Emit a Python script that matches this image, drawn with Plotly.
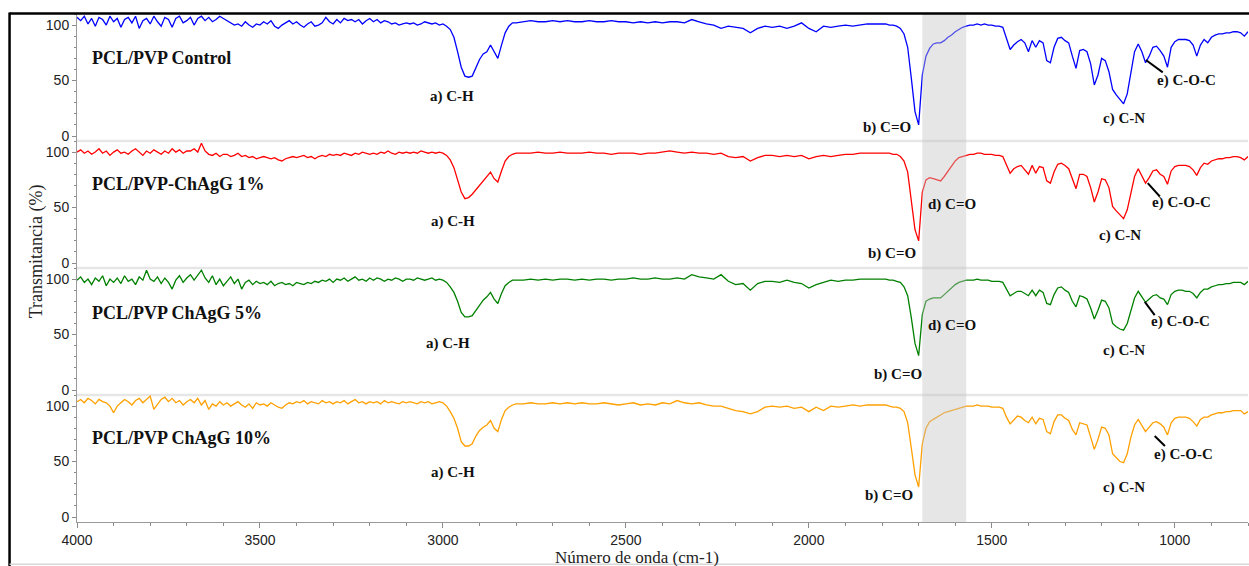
import plotly.graph_objects as go
from plotly.subplots import make_subplots

# ---------------- data ----------------
# sampling grid (cm-1): 4000-2800 every 10, 2780-1820 every 20, 1800-800 every 10
wavenumber = list(range(4000, 2790, -10)) + list(range(2780, 1810, -20)) + list(range(1800, 790, -10))

series_names = ["PCL/PVP Control", "PCL/PVP-ChAgG 1%", "PCL/PVP ChAgG 5%", "PCL/PVP ChAgG 10%"]

control_T = (
    [107, 104, 108, 101, 106, 99, 107, 105, 100, 108, 103,
     106, 98, 105, 107, 102, 108, 97, 104, 106, 101,
     108, 103, 99, 107, 105, 98, 106, 108, 102, 104,
     107, 100, 106, 108, 104, 107, 103, 105, 108, 106,
     104, 102, 100, 101, 99, 103, 100, 98, 101, 100,
     103, 101, 104, 99, 97, 100, 102, 104, 101, 103,
     100, 98, 101, 103, 99, 100, 102, 107, 103, 101,
     105, 102, 106, 104, 105, 103, 105, 101, 104, 106,
     103, 105, 102, 104, 103, 101, 102, 100, 101, 102,
     101, 102, 100, 101, 103, 102, 101, 102, 100, 101]
    + [99, 96, 89, 76, 62, 54, 53, 54, 61, 69, 74, 76, 82, 76, 70, 82, 93, 99, 102, 102]
    + [103, 104, 103, 103, 104, 103, 104, 103, 103, 104,
       103, 103, 104, 103, 103, 102, 103, 102, 103, 102,
       103, 103, 102, 105, 103, 101, 100, 97, 99, 98,
       97, 93, 97, 99, 98, 99, 97, 99, 102, 97,
       94, 99, 98, 99, 100, 99, 100, 101, 101]
    + [101, 101, 100, 100, 99, 97, 92, 80, 52, 22,
       10, 55, 72, 79, 83, 84, 84, 86, 89, 91,
       94, 96, 98, 99, 100, 100, 101, 100, 101, 100,
       100, 99, 99, 98, 88, 78, 82, 85, 87, 84,
       76, 86, 80, 86, 84, 68, 66, 80, 88, 89,
       86, 84, 72, 61, 77, 78, 76, 65, 46, 55,
       70, 68, 58, 42, 37, 33, 29, 38, 58, 76,
       83, 76, 66, 72, 80, 81, 77, 72, 62, 80,
       85, 87, 87, 87, 86, 82, 72, 82, 87, 84,
       89, 91, 92, 92, 93, 93, 94, 94, 93, 90,
       94]
)

chagg1_T = (
    [100, 102, 99, 101, 98, 100, 103, 99, 101, 97, 100,
     102, 99, 100, 98, 101, 103, 100, 97, 101, 99,
     102, 100, 98, 101, 99, 103, 100, 102, 99, 101,
     101, 103, 100, 108, 101, 98, 97, 99, 96, 98,
     98, 96, 97, 99, 96, 97, 95, 96, 94, 95,
     96, 95, 94, 95, 93, 92, 94, 95, 96, 95,
     96, 97, 95, 96, 94, 96, 97, 96, 98, 97,
     98, 97, 99, 98, 97, 99, 98, 100, 99, 98,
     99, 98, 100, 99, 101, 99, 98, 100, 99, 100,
     99, 100, 99, 101, 100, 99, 100, 99, 100, 99]
    + [97, 93, 86, 76, 64, 58, 59, 62, 66, 71, 75, 78, 82, 76, 73, 83, 92, 96, 98, 99]
    + [99, 99, 100, 99, 99, 100, 99, 99, 99, 100,
       99, 99, 98, 99, 99, 99, 98, 99, 99, 100,
       101, 100, 99, 100, 99, 99, 98, 99, 96, 95,
       96, 92, 95, 97, 97, 96, 97, 96, 97, 94,
       96, 97, 96, 97, 98, 98, 99, 99, 99]
    + [99, 99, 99, 98, 98, 96, 92, 82, 58, 30,
       20, 64, 75, 77, 76, 75, 74, 78, 83, 88,
       92, 95, 96, 97, 98, 98, 99, 99, 98, 98,
       98, 97, 97, 96, 88, 81, 85, 87, 88, 84,
       80, 88, 81, 87, 86, 74, 72, 82, 89, 90,
       88, 85, 75, 67, 80, 80, 78, 68, 55, 64,
       76, 75, 68, 51, 47, 43, 40, 48, 64, 78,
       85, 79, 72, 77, 83, 84, 80, 78, 71, 83,
       87, 88, 88, 88, 87, 84, 79, 86, 90, 89,
       92, 93, 94, 94, 95, 95, 96, 96, 95, 93,
       96]
)

chagg5_T = (
    [99, 102, 97, 100, 95, 101, 98, 103, 94, 100, 97,
     101, 96, 103, 98, 100, 95, 102, 99, 108, 100,
     98, 102, 96, 101, 97, 91, 99, 103, 97, 101,
     104, 99, 103, 108, 101, 97, 103, 95, 100, 94,
     98, 102, 96, 100, 91, 97, 99, 95, 98, 96,
     97, 95, 98, 94, 96, 97, 95, 96, 94, 97,
     96, 95, 97, 96, 98, 97, 99, 98, 100, 97,
     100, 99, 101, 98, 100, 102, 99, 100, 98, 101,
     99, 101, 100, 98, 100, 99, 101, 100, 98, 100,
     100, 99, 101, 100, 99, 100, 101, 99, 100, 99]
    + [97, 93, 88, 80, 70, 66, 66, 67, 72, 77, 81, 84, 88, 82, 78, 87, 94, 97, 99, 99]
    + [99, 100, 99, 100, 99, 100, 100, 99, 100, 99,
       100, 100, 99, 100, 100, 101, 100, 100, 101, 100,
       100, 101, 100, 104, 102, 101, 100, 104, 98, 95,
       96, 90, 96, 98, 98, 97, 99, 97, 96, 92,
       95, 97, 99, 98, 99, 99, 100, 100, 100]
    + [100, 100, 99, 99, 98, 97, 93, 85, 65, 42,
       31, 68, 80, 82, 83, 83, 83, 86, 89, 92,
       95, 97, 98, 99, 99, 99, 100, 99, 99, 99,
       98, 98, 98, 97, 91, 85, 87, 89, 89, 87,
       85, 90, 85, 90, 88, 78, 77, 86, 92, 93,
       90, 88, 80, 75, 85, 84, 82, 74, 64, 72,
       81, 80, 74, 60, 57, 55, 54, 60, 72, 83,
       89, 84, 79, 82, 85, 86, 83, 82, 77, 86,
       89, 90, 90, 89, 89, 87, 83, 88, 91, 91,
       93, 94, 95, 95, 96, 96, 97, 97, 97, 95,
       98]
)

chagg10_T = (
    [104, 106, 103, 107, 105, 102, 106, 104, 103, 100, 94,
     100, 103, 106, 104, 101, 105, 107, 103, 106, 109,
     97, 102, 106, 108, 104, 107, 103, 105, 101, 104,
     106, 103, 107, 101, 105, 97, 102, 100, 104, 101,
     103, 100, 102, 104, 101, 99, 102, 98, 103, 101,
     102, 100, 103, 101, 99, 98, 101, 103, 102, 104,
     103, 105, 102, 104, 103, 102, 105, 103, 104, 102,
     104, 103, 105, 102, 104, 106, 103, 104, 102, 104,
     103, 104, 102, 105, 103, 104, 103, 102, 104, 103,
     104, 103, 102, 104, 103, 104, 102, 103, 104, 103]
    + [100, 95, 89, 80, 68, 64, 64, 66, 73, 78, 81, 83, 87, 80, 77, 88, 96, 99, 101, 102]
    + [102, 103, 102, 102, 103, 102, 103, 102, 103, 102,
       102, 103, 102, 101, 102, 103, 101, 102, 101, 103,
       102, 105, 103, 102, 103, 101, 100, 100, 98, 96,
       95, 93, 95, 99, 100, 99, 100, 98, 99, 95,
       99, 96, 100, 99, 100, 101, 100, 101, 101]
    + [101, 101, 100, 99, 99, 98, 95, 85, 62, 38,
       27, 66, 80, 86, 88, 90, 92, 94, 95, 96,
       97, 98, 99, 100, 100, 100, 101, 100, 100, 100,
       99, 99, 99, 98, 90, 84, 88, 91, 90, 87,
       85, 90, 84, 89, 88, 77, 75, 86, 92, 92,
       89, 87, 79, 74, 85, 84, 83, 72, 61, 70,
       81, 80, 74, 57, 53, 50, 49, 57, 72, 83,
       88, 83, 77, 81, 85, 86, 84, 81, 74, 85,
       89, 90, 90, 90, 89, 86, 82, 88, 90, 90,
       92, 93, 94, 94, 95, 95, 96, 96, 96, 93,
       95]
)

series_values = [control_T, chagg1_T, chagg5_T, chagg10_T]
series_colors = ["#0000FF", "#FF0000", "#008000", "#FFA000"]

band_range = [1690, 1570]
x_ticks = [4000, 3500, 3000, 2500, 2000, 1500, 1000]
y_ticks = [0, 50, 100]

# ---------------- figure ----------------
fig = make_subplots(rows=4, cols=1, shared_xaxes=True, vertical_spacing=0)

for i, (name, vals, col) in enumerate(zip(series_names, series_values, series_colors)):
    fig.add_trace(go.Scatter(x=wavenumber, y=vals, mode="lines", name=name,
                             line=dict(color=col, width=1.3), showlegend=False),
                  row=i + 1, col=1)

tickfont = dict(family="Liberation Sans, Arial, sans-serif", size=14, color="#222222")
for r in range(1, 5):
    fig.update_yaxes(range=[-4.5, 110], tickvals=y_ticks, ticks="outside", ticklen=4,
                     tickcolor="#8a8a8a", showline=True, linecolor="#9a9a9a", linewidth=1,
                     showgrid=False, zeroline=False, tickfont=tickfont, automargin=False,
                     minor=dict(dtick=10, tick0=0, ticks="outside", ticklen=2, tickcolor="#8a8a8a"),
                     row=r, col=1)
    if r < 4:
        fig.update_xaxes(range=[4000, 800], showgrid=False, zeroline=False, showline=False,
                         ticks="", showticklabels=False, automargin=False, row=r, col=1)
fig.update_xaxes(range=[4000, 800], showgrid=False, zeroline=False, showline=True,
                 linecolor="#9a9a9a", linewidth=1, tickvals=x_ticks, ticks="outside",
                 ticklen=5, tickcolor="#8a8a8a", tickfont=tickfont, automargin=False,
                 minor=dict(dtick=100, tick0=0, ticks="outside", ticklen=3, tickcolor="#8a8a8a"),
                 row=4, col=1)

shapes = []
# shaded band
shapes.append(dict(type="rect", xref="x4", yref="paper", x0=band_range[0], x1=band_range[1],
                   y0=0, y1=1, fillcolor="#c4c4c4", opacity=0.42, line=dict(width=0), layer="above"))
# separators
for yy in [0.25, 0.5, 0.75]:
    shapes.append(dict(type="line", xref="paper", yref="paper", x0=0, x1=1, y0=yy, y1=yy,
                       line=dict(color="#e6e6e6", width=2.5), layer="below"))
# outer frame
shapes.append(dict(type="line", xref="paper", yref="paper", x0=-0.0576, x1=-0.0576,
                   y0=-0.09, y1=1.003, line=dict(color="black", width=2.5)))
shapes.append(dict(type="line", xref="paper", yref="paper", x0=-0.0576, x1=1.01,
                   y0=1.001, y1=1.001, line=dict(color="black", width=2.5)))
shapes.append(dict(type="line", xref="paper", yref="paper", x0=-0.0576, x1=1.01,
                   y0=-0.083, y1=-0.083, line=dict(color="#d8d8d8", width=1.5)))

# e) C-O-C pointer lines per panel: (x0, y0, x1, y1)
pointers = [(1079, 68.5, 1033, 57.4), (1074, 72, 1041, 60), (1082, 79.5, 1055, 67.6), (1055, 73, 1027, 64)]
for i, (x0, y0, x1, y1) in enumerate(pointers):
    ax = "" if i == 0 else str(i + 1)
    shapes.append(dict(type="line", xref="x" + ax, yref="y" + ax, x0=x0, y0=y0, x1=x1, y1=y1,
                       line=dict(color="black", width=2)))

fig.update_layout(shapes=shapes)

serif = "Liberation Serif, Times New Roman, serif"
ann = []
label_y = [70.5, 71, 69, 71]
ch_pos = [(2975, 35.7), (2973, 37), (2985, 42), (2972, 40.5)]
bco_pos = [(1787, 7.4), (1773, 9), (1757, 14.4), (1781, 19)]
cn_pos = [(1139, 16), (1150, 25), (1139, 36), (1139, 27)]
coc_pos = [(967, 50), (981, 55), (984, 61.5), (975, 56.8)]
dco_pos = {1: (1609, 53), 2: (1609, 58.6)}

for i in range(4):
    ax = "" if i == 0 else str(i + 1)
    xr, yr = "x" + ax, "y" + ax
    ann.append(dict(xref=xr, yref=yr, x=3965, y=label_y[i], text="<b>" + series_names[i] + "</b>",
                    showarrow=False, xanchor="left", yanchor="middle",
                    font=dict(family=serif, size=18, color="#111111")))
    for (px_, py_), t in [(ch_pos[i], "a) C-H"), (bco_pos[i], "b) C=O"), (cn_pos[i], "c) C-N"),
                          (coc_pos[i], "e) C-O-C")]:
        ann.append(dict(xref=xr, yref=yr, x=px_, y=py_, text="<b>" + t + "</b>", showarrow=False,
                        xanchor="center", yanchor="middle",
                        font=dict(family=serif, size=15, color="#111111")))
    if i in dco_pos:
        px_, py_ = dco_pos[i]
        ann.append(dict(xref=xr, yref=yr, x=px_, y=py_, text="<b>d) C=O</b>", showarrow=False,
                        xanchor="center", yanchor="middle",
                        font=dict(family=serif, size=15, color="#111111")))

ann.append(dict(xref="paper", yref="paper", x=0.478, y=-0.069, text="Número de onda (cm-1)",
                showarrow=False, xanchor="center", yanchor="middle",
                font=dict(family=serif, size=17, color="#222222")))
ann.append(dict(xref="paper", yref="paper", x=-0.035, y=0.533, text="Transmitancia (%)",
                showarrow=False, xanchor="center", yanchor="middle", textangle=-90,
                font=dict(family=serif, size=18, color="#222222")))

fig.update_layout(annotations=ann, width=1249, height=566,
                  margin=dict(l=77, r=1, t=14, b=44),
                  plot_bgcolor="white", paper_bgcolor="white", showlegend=False)

fig.write_html("out.html", config={"displayModeBar": False},
               post_script="document.body.style.margin='0px';document.body.style.overflow='hidden';")
